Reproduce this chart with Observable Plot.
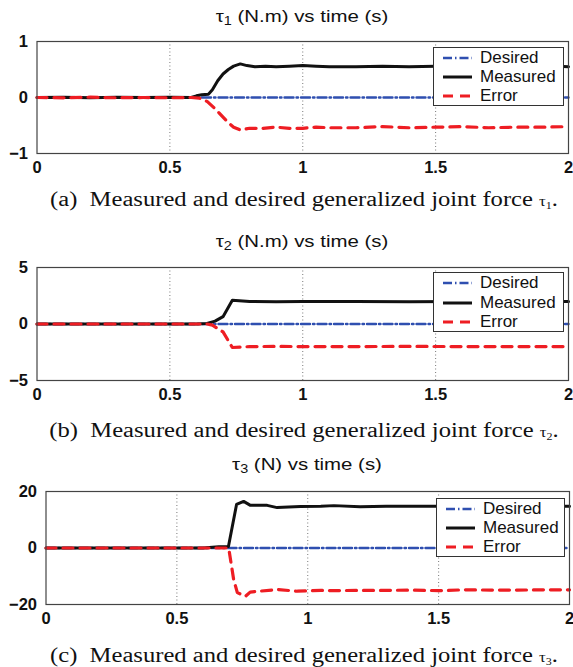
<!DOCTYPE html>
<html><head><meta charset="utf-8">
<script src="https://cdn.jsdelivr.net/npm/d3@7"></script>
<script src="https://cdn.jsdelivr.net/npm/@observablehq/plot@0.6"></script>
<style>
body{margin:0;background:#fff;}
#root{position:relative;width:573px;height:667px;overflow:hidden;background:#fff;}
.title{position:absolute;text-align:center;font-family:"Liberation Sans",Arial,sans-serif;font-size:17px;color:#111;white-space:nowrap;transform:translate(-50%,-50%) scaleX(1.2);}
.title sub{font-size:12px;vertical-align:-3px;}
.cap{position:absolute;text-align:center;font-family:"Liberation Serif","Times New Roman",serif;font-size:20.5px;color:#111;white-space:nowrap;transform:translate(-50%,-50%) scaleX(1.2);}
.cap .tau{font-size:14px;}
.cap sub{font-size:10px;vertical-align:-3px;}
.panel{position:absolute;left:0;}
.legend{position:absolute;border:1px solid #333;background:#fff;box-sizing:border-box;}
.legend .row{position:absolute;left:0;height:19px;font-family:"Liberation Sans",Arial,sans-serif;font-size:17px;color:#111;line-height:19px;white-space:nowrap;}
.legend .row svg{position:absolute;left:7px;top:0;}
.legend .row span{position:absolute;left:46px;top:0;}
</style>
</head><body><div id="root"></div>
<script>
// ---- data ----
const seriesNames = ["Desired", "Measured", "Error"];
const xTicks = [0, 0.5, 1, 1.5, 2];
const gridTicks = [0.5, 1, 1.5];

// tau1 (N.m)
const tau1Desired = {t: [0, 2], v: [0, 0]};
const tau1Measured = {
  t: [0, 0.1, 0.2, 0.3, 0.4, 0.5, 0.58, 0.6, 0.62, 0.645, 0.66, 0.68, 0.70, 0.72, 0.74, 0.765, 0.79, 0.82, 0.86, 0.9, 0.95, 1.0, 1.05, 1.1, 1.2, 1.3, 1.4, 1.5, 1.6, 1.7, 1.8, 1.9, 2.0],
  v: [0, 0.005, -0.005, 0.005, 0, 0.005, 0, 0.03, 0.05, 0.06, 0.14, 0.3, 0.42, 0.5, 0.56, 0.6, 0.57, 0.55, 0.56, 0.55, 0.56, 0.57, 0.56, 0.55, 0.55, 0.56, 0.55, 0.56, 0.56, 0.56, 0.56, 0.57, 0.55]
};
const tau1Error = {
  t: [0, 0.1, 0.2, 0.3, 0.4, 0.5, 0.58, 0.61, 0.64, 0.67, 0.70, 0.72, 0.74, 0.765, 0.8, 0.85, 0.9, 0.95, 1.0, 1.05, 1.1, 1.2, 1.3, 1.4, 1.5, 1.6, 1.7, 1.8, 1.9, 2.0],
  v: [0, -0.005, 0.005, -0.005, 0, -0.005, 0, -0.01, -0.07, -0.2, -0.35, -0.45, -0.53, -0.58, -0.55, -0.55, -0.53, -0.55, -0.55, -0.53, -0.54, -0.54, -0.52, -0.54, -0.53, -0.52, -0.54, -0.53, -0.53, -0.52]
};

// tau2 (N.m)
const tau2Desired = {t: [0, 2], v: [0, 0]};
const tau2Measured = {
  t: [0, 0.2, 0.4, 0.6, 0.64, 0.67, 0.70, 0.735, 0.8, 0.9, 1.0, 1.2, 1.4, 1.6, 1.8, 2.0],
  v: [0, 0, 0, 0, 0.05, 0.25, 0.65, 2.1, 2.0, 1.98, 2.0, 2.0, 1.98, 2.0, 2.0, 2.0]
};
const tau2Error = {
  t: [0, 0.2, 0.4, 0.6, 0.64, 0.66, 0.70, 0.735, 0.8, 0.9, 1.0, 1.2, 1.4, 1.6, 1.8, 2.0],
  v: [0, 0, 0, 0, 0, -0.1, -0.7, -2.08, -2.0, -1.98, -2.0, -2.0, -1.98, -2.0, -2.0, -2.0]
};

// tau3 (N)
const tau3Desired = {t: [0, 2], v: [0, 0]};
const tau3Measured = {
  t: [0, 0.2, 0.4, 0.6, 0.66, 0.697, 0.728, 0.755, 0.781, 0.845, 0.883, 0.972, 1.05, 1.1, 1.2, 1.3, 1.4, 1.5, 1.6, 1.7, 1.8, 1.9, 2.0],
  v: [0, 0, 0, 0, 0.4, 0.5, 15.4, 16.5, 15.1, 15.1, 14.3, 14.7, 14.8, 15.0, 14.6, 14.8, 14.8, 14.8, 14.9, 14.9, 14.9, 14.8, 14.8]
};
const tau3Error = {
  t: [0, 0.2, 0.4, 0.6, 0.698, 0.717, 0.731, 0.762, 0.78, 0.883, 0.96, 1.05, 1.1, 1.2, 1.3, 1.4, 1.5, 1.6, 1.7, 1.8, 1.9, 2.0],
  v: [0, 0, 0, 0, 0, -11.2, -15.8, -17.1, -15.6, -14.7, -15.3, -15.0, -15.1, -15.0, -15.0, -14.9, -15.1, -14.8, -14.9, -14.9, -14.8, -14.8]
};

const panels = [
  {sub: "1", unit: "(N.m)", letter: "a", yTicks: [-1, 0, 1], yDomain: [-1, 1],
   desired: tau1Desired, measured: tau1Measured, error: tau1Error,
   svgTop: 28, mTop: 13, mBottom: 30, mLeft: 36.5, mRight: 5, titleY: 17, capY: 199,
   legend: {left: 433, top: 47, w: 131, h: 59}},
  {sub: "2", unit: "(N.m)", letter: "b", yTicks: [-5, 0, 5], yDomain: [-5, 5],
   desired: tau2Desired, measured: tau2Measured, error: tau2Error,
   svgTop: 254, mTop: 13, mBottom: 29, mLeft: 36.5, mRight: 5, titleY: 242, capY: 430,
   legend: {left: 433, top: 272, w: 131, h: 60}},
  {sub: "3", unit: "(N)", letter: "c", yTicks: [-20, 0, 20], yDomain: [-20, 20],
   desired: tau3Desired, measured: tau3Measured, error: tau3Error,
   svgTop: 478, mTop: 13, mBottom: 29, mLeft: 45.5, mRight: 4, titleY: 465, capY: 655,
   legend: {left: 436, top: 498, w: 129, h: 59}}
];

const styles = {
  Desired: {stroke: "#2f4fb0", strokeWidth: 2.4, strokeDasharray: "9,3,1.5,3"},
  Measured: {stroke: "#111111", strokeWidth: 3, strokeDasharray: null},
  Error: {stroke: "#ee1d23", strokeWidth: 3.2, strokeDasharray: "10,7"}
};

const root = document.getElementById("root");
const toRows = s => s.t.map((t, i) => ({t, v: s.v[i]}));

panels.forEach(p => {
  const height = 155;
  const chart = Plot.plot({
    width: 573, height,
    marginTop: p.mTop, marginBottom: p.mBottom, marginLeft: p.mLeft, marginRight: p.mRight,
    style: {fontFamily: "'Liberation Sans', Arial, sans-serif", fontSize: "16.5px", fontWeight: "bold", color: "#111", background: "transparent", overflow: "visible"},
    x: {domain: [0, 2], ticks: xTicks, tickFormat: d => String(d), tickSize: 0, tickPadding: 8, label: null},
    y: {domain: p.yDomain, ticks: p.yTicks, tickSize: 0, tickPadding: 9, label: null, tickFormat: d => d < 0 ? "\u2212" + Math.abs(d) : String(d)},
    marks: [
      Plot.gridX(gridTicks, {stroke: "#777", strokeOpacity: 1, strokeDasharray: "1,2.5", strokeWidth: 1}),
      Plot.line(toRows(p.desired), {x: "t", y: "v", ...styles.Desired}),
      Plot.line(toRows(p.measured), {x: "t", y: "v", ...styles.Measured, strokeLinejoin: "round"}),
      Plot.line(toRows(p.error), {x: "t", y: "v", ...styles.Error}),
      Plot.frame({stroke: "#444", strokeWidth: 1.2})
    ]
  });
  const wrap = document.createElement("div");
  wrap.className = "panel";
  wrap.style.top = p.svgTop + "px";
  wrap.appendChild(chart);
  root.appendChild(wrap);

  const frameCenter = (p.mLeft + 573 - p.mRight) / 2;
  const title = document.createElement("div");
  title.className = "title";
  title.style.left = frameCenter + "px";
  title.style.top = p.titleY + "px";
  title.innerHTML = `\u03c4<sub>${p.sub}</sub> ${p.unit} vs time (s)`;
  root.appendChild(title);

  const cap = document.createElement("div");
  cap.className = "cap";
  cap.style.left = "304px";
  cap.style.top = p.capY + "px";
  cap.innerHTML = `(${p.letter})&nbsp; Measured and desired generalized joint force <span class="tau">\u03c4</span><sub>${p.sub}</sub>.`;
  root.appendChild(cap);

  const lg = document.createElement("div");
  lg.className = "legend";
  Object.assign(lg.style, {left: p.legend.left + "px", top: p.legend.top + "px", width: p.legend.w + "px", height: p.legend.h + "px"});
  const rowH = (p.legend.h - 2) / 3;
  seriesNames.forEach((name, i) => {
    const row = document.createElement("div");
    row.className = "row";
    row.style.top = (1 + i * rowH + rowH / 2 - 9.5 - 1) + "px";
    const st = styles[name];
    row.innerHTML = `<svg width="34" height="19"><line x1="2" x2="31" y1="10" y2="10" stroke="${st.stroke}" stroke-width="${st.strokeWidth}" ${st.strokeDasharray ? `stroke-dasharray="${st.strokeDasharray}"` : ""}/></svg><span>${name}</span>`;
    lg.appendChild(row);
  });
  root.appendChild(lg);
});
</script></body></html>
